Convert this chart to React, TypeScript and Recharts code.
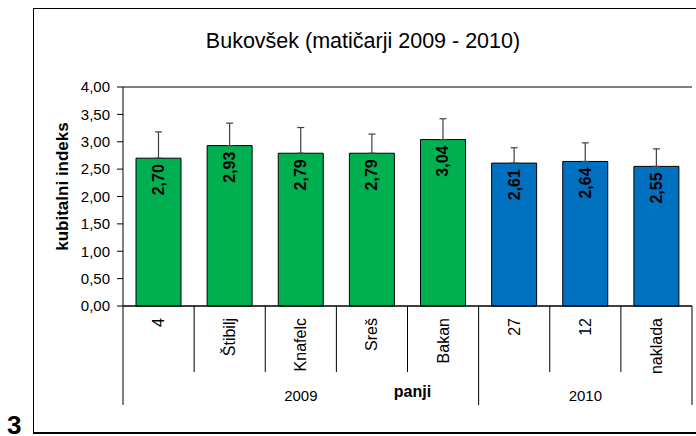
import React from "react";
import {
  BarChart,
  Bar,
  Cell,
  XAxis,
  YAxis,
  CartesianGrid,
  ErrorBar,
  LabelList,
} from "recharts";

const categories = ["4", "Štibilj", "Knafelc", "Sreš", "Bakan", "27", "12", "naklada"];
const years = ["2009", "2009", "2009", "2009", "2009", "2010", "2010", "2010"];
const means = [2.7, 2.93, 2.79, 2.79, 3.04, 2.61, 2.64, 2.55];
const errPlus = [0.48, 0.41, 0.47, 0.35, 0.38, 0.28, 0.34, 0.32];
const yTicks = [0, 0.5, 1, 1.5, 2, 2.5, 3, 3.5, 4];
const yearColors: Record<string, string> = { "2009": "#00B050", "2010": "#0070C0" };

const data = categories.map((name, i) => ({
  name,
  year: years[i],
  value: means[i],
  err: [0, errPlus[i]],
}));

const FONT = "'Liberation Sans', Arial, sans-serif";
const fmt = (v: number) => v.toFixed(2).replace(".", ",");

// category labels plus the two-level separators and year labels
const CategoryTick = (props: any) => {
  const { x, y, payload, index } = props;
  const half = payload && payload.offset ? payload.offset : 35.6;
  const year = years[index];
  const groupStart = index === 0 || years[index - 1] !== year;
  const groupEnd = index === years.length - 1;
  const groupSize = years.filter((yr) => yr === year).length;
  const left = x - half;
  return (
    <g>
      <text
        x={x}
        y={y + 12}
        transform={`rotate(-90 ${x} ${y + 12})`}
        textAnchor="end"
        dominantBaseline="central"
        fontSize={16}
        fontFamily={FONT}
        fill="#000"
      >
        {payload.value}
      </text>
      <line x1={left} y1={y} x2={left} y2={groupStart ? y + 99 : y + 66} stroke="#000" />
      {groupEnd && <line x1={x + half} y1={y} x2={x + half} y2={y + 99} stroke="#000" />}
      {groupStart && (
        <text
          x={left + groupSize * half}
          y={y + 89}
          textAnchor="middle"
          dominantBaseline="central"
          fontSize={15}
          fontFamily={FONT}
          fill="#000"
        >
          {year}
        </text>
      )}
    </g>
  );
};

const ValueLabel = (props: any) => {
  const { x, y, width, value } = props;
  const cx = x + width / 2;
  const ty = y + 6;
  return (
    <text
      x={cx}
      y={ty}
      transform={`rotate(-90 ${cx} ${ty})`}
      textAnchor="end"
      dominantBaseline="central"
      fontSize={16}
      fontWeight="bold"
      fontFamily={FONT}
      fill="#000"
    >
      {fmt(value)}
    </text>
  );
};

export default function App() {
  return (
    <div style={{ position: "absolute", left: 0, top: 0, width: 696, height: 436, overflow: "hidden", background: "#fff" }}>
      <div
        style={{
          position: "absolute",
          left: 33,
          top: 8,
          width: 700,
          height: 423,
          border: "1px solid #000",
          borderBottomWidth: 2,
        }}
      />
      <div
        style={{
          position: "absolute",
          left: 0,
          width: 696,
          top: 29,
          textAlign: "center",
          paddingLeft: 30,
          boxSizing: "border-box",
          fontFamily: FONT,
          fontSize: 21.5,
          color: "#000",
        }}
      >
        Bukovšek (matičarji 2009 - 2010)
      </div>
      <div
        style={{
          position: "absolute",
          left: 7,
          top: 410,
          fontFamily: FONT,
          fontSize: 26,
          fontWeight: "bold",
          color: "#000",
        }}
      >
        3
      </div>
      <div style={{ position: "absolute", left: 0, top: 0 }}>
        <BarChart
          width={696}
          height={436}
          data={data}
          margin={{ top: 87, right: 4, bottom: 30, left: 0 }}
        >
          <CartesianGrid vertical={false} stroke="#000" strokeWidth={1} />
          <XAxis
            dataKey="name"
            height={100}
            tickSize={0}
            tickMargin={0}
            tickLine={false}
            axisLine={{ stroke: "#000" }}
            interval={0}
            tick={<CategoryTick />}
            label={{
              content: (p: any) => {
                const vb = p.viewBox;
                return (
                  <text
                    x={vb.x + vb.width / 2 + 5}
                    y={vb.y + 85}
                    textAnchor="middle"
                    dominantBaseline="central"
                    fontSize={16}
                    fontWeight="bold"
                    fontFamily={FONT}
                    fill="#000"
                  >
                    panji
                  </text>
                );
              },
            }}
          />
          <YAxis
            yAxisId="left"
            width={123}
            domain={[0, 4]}
            ticks={yTicks}
            tickFormatter={fmt}
            tickSize={6}
            tickMargin={7}
            tickLine={{ stroke: "#000" }}
            axisLine={{ stroke: "#000" }}
            tick={{ fontSize: 15, fontFamily: FONT, fill: "#000" }}
            label={{
              content: (p: any) => {
                const vb = p.viewBox;
                const cy = vb.y + vb.height / 2 - 10;
                return (
                  <text
                    x={62}
                    y={cy}
                    transform={`rotate(-90 62 ${cy})`}
                    textAnchor="middle"
                    dominantBaseline="central"
                    fontSize={17}
                    fontWeight="bold"
                    fontFamily={FONT}
                    fill="#000"
                  >
                    kubitalni indeks
                  </text>
                );
              },
            }}
          />
          <YAxis
            yAxisId="right"
            orientation="right"
            width={0}
            domain={[0, 4]}
            tick={false}
            tickLine={false}
            axisLine={{ stroke: "#808080" }}
          />
          <Bar
            yAxisId="left"
            dataKey="value"
            barSize={45}
            stroke="#000"
            strokeWidth={1}
            isAnimationActive={false}
          >
            {data.map((d, i) => (
              <Cell key={i} fill={yearColors[d.year]} />
            ))}
            <ErrorBar dataKey="err" width={3.5} stroke="#404040" strokeWidth={1.2} direction="y" />
            <LabelList dataKey="value" content={<ValueLabel />} />
          </Bar>
        </BarChart>
      </div>
    </div>
  );
}
